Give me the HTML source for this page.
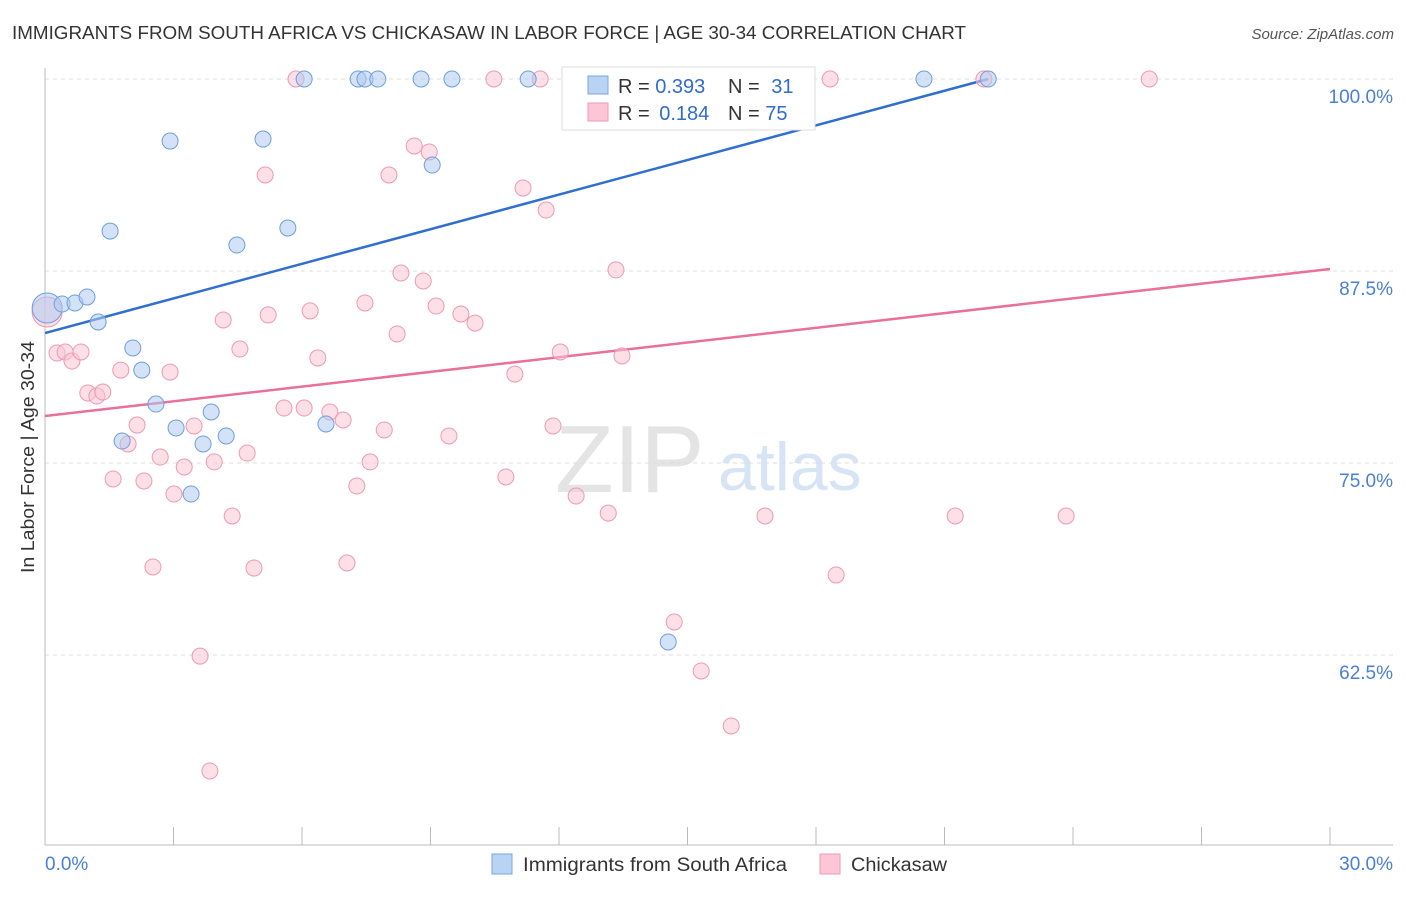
<!DOCTYPE html>
<html><head><meta charset="utf-8">
<style>
body{margin:0;background:#fff;font-family:"Liberation Sans",sans-serif;}
svg text{font-family:"Liberation Sans",sans-serif;}
</style></head>
<body>
<svg id="chart" width="1406" height="892" xmlns="http://www.w3.org/2000/svg">
<text x="12" y="39" font-size="18.5" fill="#333" textLength="954" lengthAdjust="spacingAndGlyphs">IMMIGRANTS FROM SOUTH AFRICA VS CHICKASAW IN LABOR FORCE | AGE 30-34 CORRELATION CHART</text>
<text x="1394" y="39" font-size="15" fill="#555" font-style="italic" text-anchor="end">Source: ZipAtlas.com</text>
<text x="34" y="457" font-size="18" fill="#333" text-anchor="middle" textLength="232" lengthAdjust="spacingAndGlyphs" transform="rotate(-90 34 457)">In Labor Force | Age 30-34</text>
<text x="555" y="492" font-size="96" fill="#e4e4e4" font-family="Liberation Serif">ZIP</text>
<text x="718" y="490" font-size="68" fill="#d6e4f5">atlas</text>
<g id="grid"></g><g id="axes"></g><g id="trends"></g><g id="points"></g>
<g>
<rect x="562" y="67" width="253" height="63" fill="#fff" stroke="#ddd"/>
<rect x="588" y="76" width="20" height="18" fill="#b8d3f3" stroke="#7aa6e0"/>
<rect x="588" y="103" width="20" height="18" fill="#fcc6d6" stroke="#ef9ab5"/>
<text x="618" y="93" font-size="20" fill="#333">R = <tspan fill="#2f6ccc">0.393</tspan></text>
<text x="728" y="93" font-size="20" fill="#333">N = <tspan fill="#2f6ccc" dx="6">31</tspan></text>
<text x="618" y="120" font-size="20" fill="#333">R = <tspan fill="#2f6ccc" dx="4">0.184</tspan></text>
<text x="728" y="120" font-size="20" fill="#333">N = <tspan fill="#2f6ccc">75</tspan></text>
</g>
<g>
<rect x="492" y="854" width="20" height="20" fill="#b8d3f3" stroke="#7aa6e0"/>
<text x="523" y="871" font-size="19" fill="#333" textLength="264" lengthAdjust="spacingAndGlyphs">Immigrants from South Africa</text>
<rect x="820" y="854" width="20" height="20" fill="#fcc6d6" stroke="#ef9ab5"/>
<text x="851" y="871" font-size="19" fill="#333" textLength="96" lengthAdjust="spacingAndGlyphs">Chickasaw</text>
</g>
</svg>
<script>
const yTicks=[100,87.5,75,62.5];
const yTickLabels=["100.0%","87.5%","75.0%","62.5%"];
const xTickLabels=["0.0%","30.0%"];
const blueX=[0.05,0.40,0.70,0.98,1.24,1.52,2.05,2.26,2.59,2.92,3.06,3.41,3.69,3.88,4.23,4.48,5.09,5.67,6.05,6.56,7.31,7.47,7.77,8.78,9.50,9.04,11.28,14.55,20.52,22.02,1.80];
const blueY=[85.09,85.35,85.42,85.81,84.18,90.10,82.49,81.05,78.84,95.96,77.28,72.98,76.24,78.32,76.76,89.19,96.09,90.30,100,77.54,100,100,100,100,100,94.40,100,63.35,100,100,76.43];
const pinkX=[0.05,0.28,0.47,0.63,0.84,1.00,1.21,1.35,1.59,1.77,1.94,2.15,2.31,2.52,2.69,2.92,3.01,3.25,3.48,3.62,3.85,3.95,4.16,4.37,4.55,4.72,4.88,5.14,5.21,5.58,5.86,6.05,6.19,6.37,6.65,6.96,7.05,7.28,7.47,7.59,7.92,8.03,8.22,8.31,8.62,8.83,8.97,9.13,9.43,9.71,10.04,10.48,10.76,10.97,11.16,11.56,11.70,11.86,12.03,12.40,13.15,13.33,13.47,14.69,15.32,16.02,16.58,16.81,18.33,18.47,21.25,21.92,23.84,25.78];
const pinkY=[84.83,82.16,82.23,81.64,82.23,79.56,79.36,79.62,73.96,81.05,76.24,77.47,73.83,68.23,75.39,80.92,72.98,74.74,77.41,62.43,54.95,75.07,84.31,71.55,82.42,75.65,68.16,93.75,84.64,78.58,100,78.58,84.90,81.84,78.32,77.80,68.49,73.50,85.42,75.07,77.15,93.75,83.40,87.37,95.64,86.85,95.25,85.22,76.76,84.70,84.11,100,74.09,80.79,92.90,100,91.47,77.41,82.23,72.85,71.74,87.57,81.97,64.65,61.46,57.88,100,71.55,100,67.71,71.55,100,71.55,100];
const blueTrend=[83.46,100,0,22.02];
const pinkTrend=[78.06,87.63,0,30];
const NS="http://www.w3.org/2000/svg";
const X=v=>45+v*(1285/30), Y=v=>79+(100-v)*15.36;
function mk(tag,attrs,parent){const e=document.createElementNS(NS,tag);for(const k in attrs)e.setAttribute(k,attrs[k]);document.getElementById(parent).appendChild(e);return e;}
yTicks.forEach((t,i)=>{
 const l=mk('line',{x1:45,x2:1393,y1:Y(t),y2:Y(t),stroke:'#ddd','stroke-dasharray':'4 4'},'grid');
 
 
 const tx=mk('text',{x:1393,y:Y(t)+24,'font-size':19,fill:'#4a7fd4','text-anchor':'end'},'grid');
 tx.textContent=yTickLabels[i];
 
 
});
let a=mk('line',{x1:45,x2:45,y1:68,y2:845,stroke:'#bbb'},'axes');


a=mk('line',{x1:45,x2:1393,y1:845,y2:845,stroke:'#bbb'},'axes');


for(let i=1;i<=10;i++){const t=mk('line',{x1:X(i*3),x2:X(i*3),y1:827,y2:845,stroke:'#bbb'},'axes');
 
 }
let xl=mk('text',{x:45,y:870,'font-size':19,fill:'#4a7fd4'},'axes');xl.textContent=xTickLabels[0];


xl=mk('text',{x:1393,y:870,'font-size':19,fill:'#4a7fd4','text-anchor':'end'},'axes');xl.textContent=xTickLabels[1];


function pts(xs,ys,fill,stroke,name){xs.forEach((x,i)=>{const r=i===0?15:8;
 const c=mk('circle',{cx:X(x),cy:Y(ys[i]),r:r,fill:fill,'fill-opacity':0.55,stroke:stroke,'stroke-width':1},'points');
 
 });}
pts(pinkX,pinkY,'#fbc4d5','#ec9ab4','chickasaw-point');
pts(blueX,blueY,'#aecbf0','#6f9fdc','south-africa-point');
let tl=mk('line',{x1:X(blueTrend[2]),y1:Y(blueTrend[0]),x2:X(blueTrend[3]),y2:Y(blueTrend[1]),stroke:'#2f6fd0','stroke-width':2.5},'trends');


tl=mk('line',{x1:X(pinkTrend[2]),y1:Y(pinkTrend[0]),x2:X(pinkTrend[3]),y2:Y(pinkTrend[1]),stroke:'#e8709a','stroke-width':2.5},'trends');


</script>
</body></html>
